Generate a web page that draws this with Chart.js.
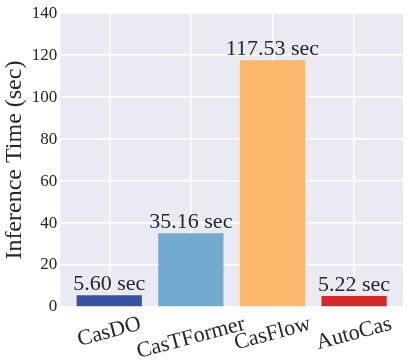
<!DOCTYPE html>
<html>
<head>
<meta charset="utf-8">
<script src="https://cdn.jsdelivr.net/npm/chart.js@4"></script>
<style>
  html, body { margin: 0; padding: 0; background: #fff; }
  #wrap { width: 407px; height: 361px; }
</style>
</head>
<body>
<div id="wrap"><canvas id="timeChart"></canvas></div>
<script>
const models = ['CasDO', 'CasTFormer', 'CasFlow', 'AutoCas'];
const inferenceTimes = [5.60, 35.16, 117.53, 5.22];
const barColors = ['#3953a4', '#74aacf', '#fdb86e', '#d62a28'];
const yTicks = [0, 20, 40, 60, 80, 100, 120, 140];

const serif = "'Liberation Serif', 'Times New Roman', serif";

// grey seaborn-style panel behind the bars
const panelBg = {
    id: 'panelBg',
    beforeDraw(chart) {
        const { ctx, chartArea: a } = chart;
        ctx.save();
        ctx.fillStyle = '#eaeaf2';
        ctx.fillRect(a.left, a.top, a.right - a.left, a.bottom - a.top);
        ctx.restore();
    }
};

// value labels above bars and rotated category labels
const labels = {
    id: 'labels',
    afterDraw(chart) {
        const ctx = chart.ctx;
        const meta = chart.getDatasetMeta(0);
        const xs = chart.scales.x;
        ctx.save();
        ctx.fillStyle = '#262626';
        ctx.font = '22px ' + serif;
        ctx.textAlign = 'center';
        ctx.textBaseline = 'alphabetic';
        meta.data.forEach((bar, i) => {
            ctx.fillText(inferenceTimes[i].toFixed(2) + ' sec', bar.x, bar.y - 5);
        });
        ctx.font = '22px ' + serif;
        const rot = 15 * Math.PI / 180;
        const top = chart.chartArea.bottom + 7;
        models.forEach((name, i) => {
            const x = xs.getPixelForValue(i);
            const w = ctx.measureText(name).width;
            const h = 20;
            const cy = top + (w * Math.sin(rot) + h * Math.cos(rot)) / 2;
            ctx.save();
            ctx.translate(x, cy);
            ctx.rotate(-rot);
            ctx.textBaseline = 'middle';
            ctx.fillText(name, 0, 0);
            ctx.restore();
        });
        ctx.restore();
    }
};

new Chart(document.getElementById('timeChart'), {
    type: 'bar',
    data: {
        datasets: [{
            data: inferenceTimes.map((v, i) => ({ x: i, y: v })),
            backgroundColor: barColors,
            borderWidth: 0,
            categoryPercentage: 1,
            barPercentage: 0.8
        }]
    },
    options: {
        responsive: true,
        maintainAspectRatio: false,
        animation: false,
        layout: { padding: { top: -3, right: 4, bottom: 54, left: 0 } },
        plugins: {
            legend: { display: false },
            tooltip: { enabled: false }
        },
        scales: {
            x: {
                type: 'linear',
                offset: false,
                min: -0.6,
                max: 3.6,
                afterBuildTicks(scale) {
                    scale.ticks = models.map((m, i) => ({ value: i }));
                },
                ticks: { display: false },
                grid: { color: '#ffffff', lineWidth: 1.5, drawTicks: false, offset: false },
                border: { display: false }
            },
            y: {
                min: 0,
                max: 140,
                afterBuildTicks(scale) {
                    scale.ticks = yTicks.map(v => ({ value: v }));
                },
                ticks: {
                    color: '#262626',
                    font: { family: serif, size: 17 },
                    padding: 3
                },
                grid: { color: '#ffffff', lineWidth: 1.5, drawTicks: false },
                border: { display: false },
                title: {
                    display: true,
                    text: 'Inference Time (sec)',
                    color: '#262626',
                    font: { family: serif, size: 24 },
                    padding: { top: 0, bottom: 0 }
                }
            }
        }
    },
    plugins: [panelBg, labels]
});
</script>
</body>
</html>
